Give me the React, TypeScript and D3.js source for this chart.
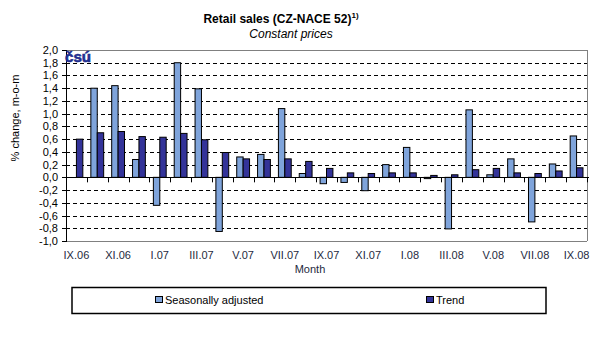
import React from "react";
import * as d3 from "d3";

const months = [
  "IX.06", "X.06", "XI.06", "XII.06", "I.07", "II.07", "III.07", "IV.07",
  "V.07", "VI.07", "VII.07", "VIII.07", "IX.07", "X.07", "XI.07", "XII.07",
  "I.08", "II.08", "III.08", "IV.08", "V.08", "VI.08", "VII.08", "VIII.08", "IX.08",
];
const seasonallyAdjusted: (number | null)[] = [
  null, 1.4, 1.44, 0.28, -0.44, 1.8, 1.39, -0.85,
  0.32, 0.36, 1.08, 0.06, -0.1, -0.08, -0.21, 0.2,
  0.47, -0.02, -0.81, 1.06, 0.04, 0.29, -0.7, 0.21, 0.65,
];
const trend: number[] = [
  0.6, 0.7, 0.72, 0.64, 0.63, 0.69, 0.59, 0.39,
  0.29, 0.28, 0.29, 0.25, 0.14, 0.07, 0.06, 0.07,
  0.07, 0.03, 0.04, 0.12, 0.14, 0.07, 0.06, 0.1, 0.15,
];
const yTicks = [2.0, 1.8, 1.6, 1.4, 1.2, 1.0, 0.8, 0.6, 0.4, 0.2, 0, -0.2, -0.4, -0.6, -0.8, -1.0];
const seriesNames = ["Seasonally adjusted", "Trend"];
const colors = ["#7FA4DB", "#333399"];

const FONT = "'Liberation Sans', Arial, sans-serif";

export default function App() {
  const left = 66, right = 587, top = 50, bottom = 241;
  const y = d3.scaleLinear().domain([-1, 2]).range([bottom, top]);
  const x = d3.scaleBand<string>().domain(months).range([left, right]).paddingInner(0.385).paddingOuter(0.1925);
  const inner = d3.scaleBand<string>().domain(seriesNames).range([0, x.bandwidth()]);
  const step = x.step();
  const fmt = (v: number) => d3.format(".1f")(v).replace(".", ",").replace("−", "-");
  const series = [seasonallyAdjusted, trend];

  return (
    <svg width={592} height={363} style={{ position: "absolute", left: 0, top: 0, background: "#fff" }} fontFamily={FONT}>
      <rect x={0} y={0} width={592} height={363} fill="#fff" />
      {/* Title */}
      <text x={281} y={23} textAnchor="middle" fontSize={12} fontWeight="bold" fill="#000">
        Retail sales (CZ-NACE 52)
        <tspan fontSize={8} dy={-5}>1)</tspan>
      </text>
      <text x={291} y={38} textAnchor="middle" fontSize={12} fontStyle="italic" fill="#000">
        Constant prices
      </text>

      {/* Gridlines */}
      {yTicks.filter((t) => t !== 0 && t !== 2 && t !== -1).map((t) => (
        <line key={"g" + t} x1={left} x2={right} y1={Math.round(y(t)) + 0.5} y2={Math.round(y(t)) + 0.5}
          stroke="#000" strokeWidth={1} strokeDasharray="4,3" />
      ))}
      {/* Plot border (top, right, bottom) */}
      <line x1={left} x2={right} y1={top + 0.5} y2={top + 0.5} stroke="#808080" />
      <line x1={right + 0.5} x2={right + 0.5} y1={top} y2={bottom} stroke="#808080" />
      <line x1={left} x2={right} y1={bottom + 0.5} y2={bottom + 0.5} stroke="#808080" />

      {/* Bars */}
      {months.map((m, i) => (
        <g key={m}>
          {series.map((s, j) => {
            const v = s[i];
            if (v === null || v === undefined) return null;
            const x0 = (x(m) as number) + (inner(seriesNames[j]) as number);
            const y0 = Math.min(y(v), y(0));
            const h = Math.abs(y(v) - y(0));
            return (
              <rect key={j} x={x0} y={y0} width={inner.bandwidth()} height={h}
                fill={colors[j]} stroke="#000" strokeWidth={1} />
            );
          })}
        </g>
      ))}

      {/* Zero axis with ticks */}
      <line x1={left} x2={right + 2} y1={Math.round(y(0)) + 0.5} y2={Math.round(y(0)) + 0.5} stroke="#000" />
      {d3.range(1, months.length + 1).map((k) => {
        const xx = Math.round(left + k * step) + 0.5;
        return <line key={"t" + k} x1={xx} x2={xx} y1={y(0)} y2={y(0) + 5} stroke="#000" />;
      })}

      {/* Left axis */}
      <line x1={left + 0.5} x2={left + 0.5} y1={top} y2={bottom + 1} stroke="#000" />
      {yTicks.map((t) => (
        <g key={"y" + t}>
          <line x1={left - 4} x2={left} y1={Math.round(y(t)) + 0.5} y2={Math.round(y(t)) + 0.5} stroke="#000" />
          <text x={58} y={y(t) + 4} textAnchor="end" fontSize={11} fill="#000">{fmt(t)}</text>
        </g>
      ))}

      {/* Logo */}
      <text x={65} y={62} fontSize={14} fontWeight="900" fill="#1F2F8F" stroke="#1F2F8F" strokeWidth={0.6}
        textLength={26} lengthAdjust="spacingAndGlyphs">čsú</text>

      {/* X labels */}
      {months.map((m, i) => i % 2 === 0 ? (
        <text key={"x" + m} x={(x(m) as number) + x.bandwidth() / 2} y={259} textAnchor="middle" fontSize={11} fill="#1e2a40">{m}</text>
      ) : null)}
      <text x={310} y={273} textAnchor="middle" fontSize={11} fill="#1e2a40">Month</text>

      {/* Y title */}
      <text transform={`translate(19, 118) rotate(-90)`} textAnchor="middle" fontSize={11} fill="#000">% change, m-o-m</text>

      {/* Legend */}
      <rect x={72} y={287.5} width={474} height={26} fill="#fff" stroke="#000" strokeWidth={1.5} />
      <rect x={155.5} y={296.5} width={7} height={6} fill={colors[0]} stroke="#000" strokeWidth={1} />
      <text x={165} y={304} fontSize={11} fill="#000">{seriesNames[0]}</text>
      <rect x={426.5} y={296.5} width={7} height={6} fill={colors[1]} stroke="#000" strokeWidth={1} />
      <text x={436} y={304} fontSize={11} fill="#000">{seriesNames[1]}</text>
    </svg>
  );
}
